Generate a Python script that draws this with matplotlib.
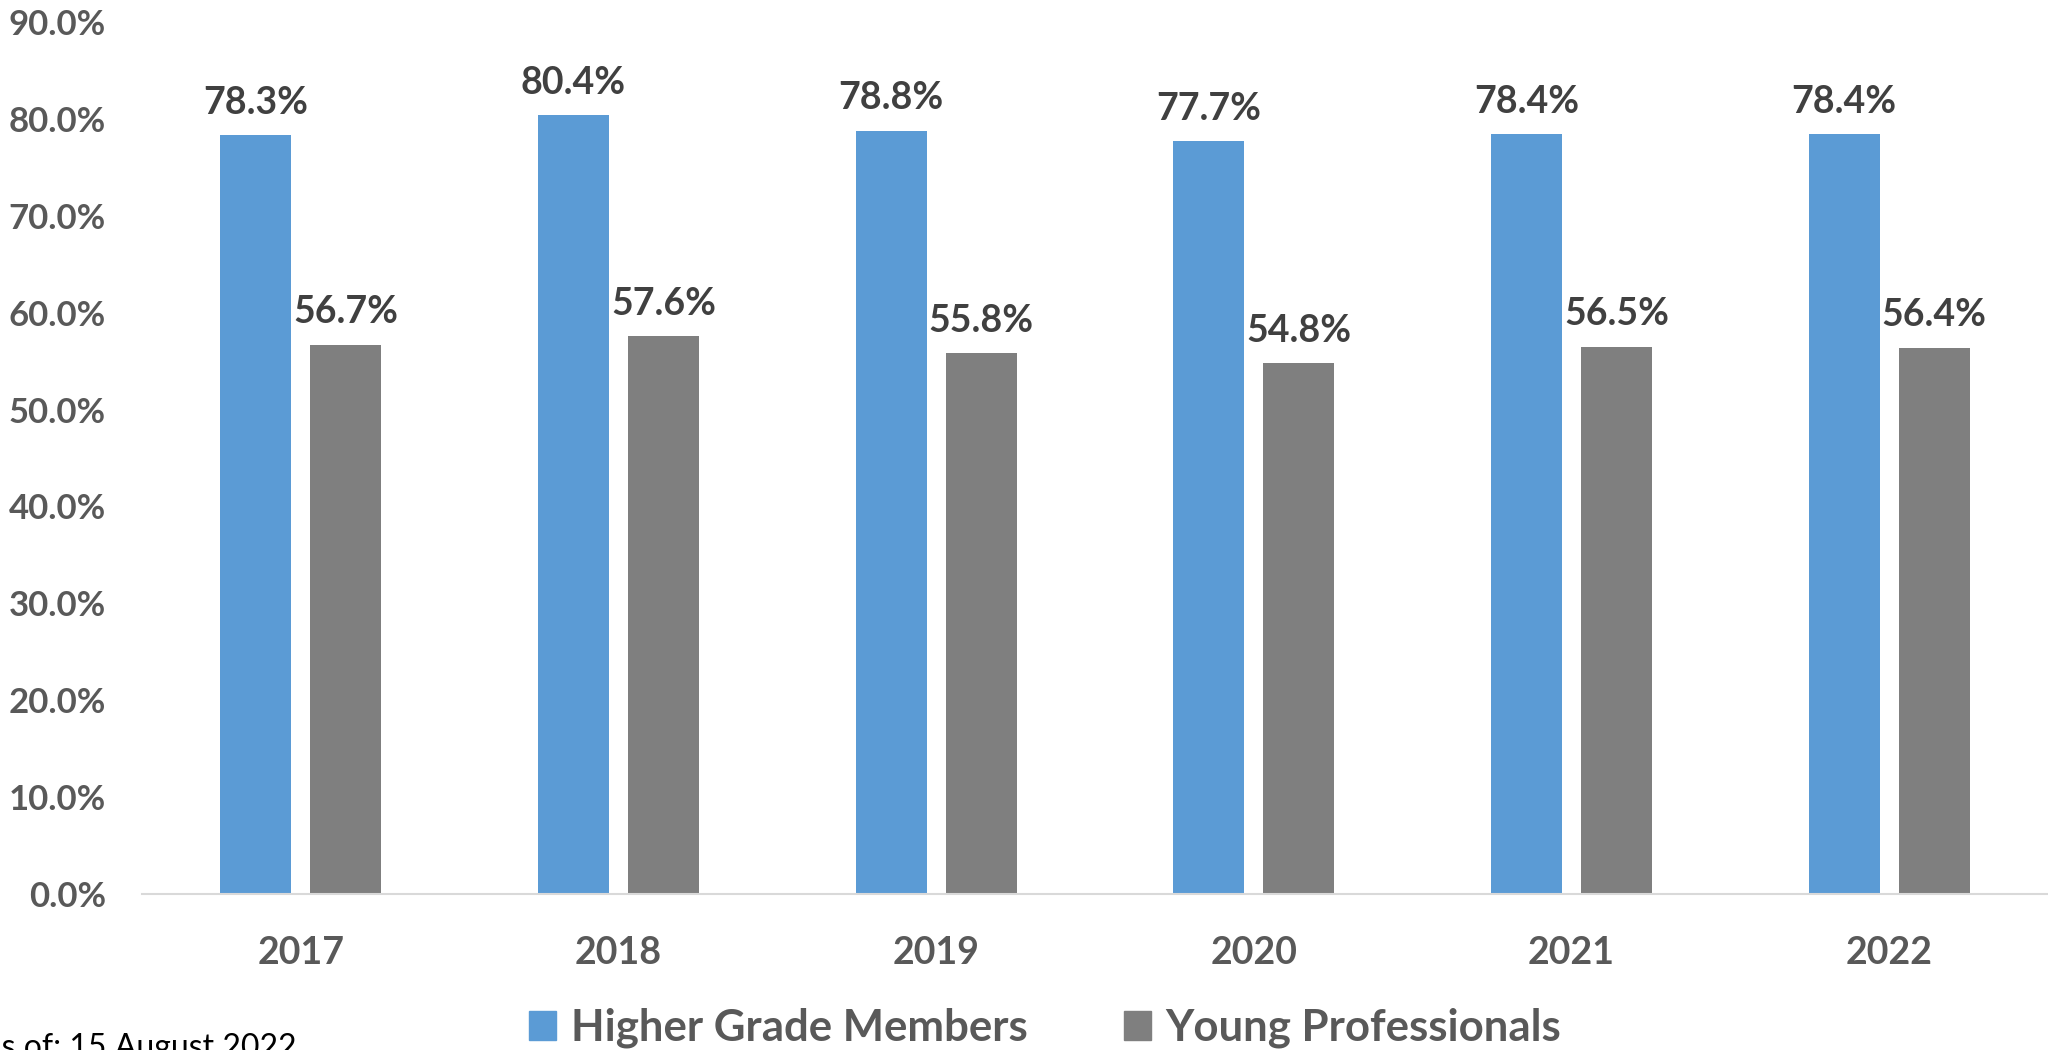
import numpy as np
import matplotlib.pyplot as plt
from matplotlib.patches import Patch
from matplotlib.ticker import PercentFormatter

# values
years = ["2017", "2018", "2019", "2020", "2021", "2022"]
higher_grade = [78.3, 80.4, 78.8, 77.7, 78.4, 78.4]
young_prof = [56.7, 57.6, 55.8, 54.8, 56.5, 56.4]
series_names = ["Higher Grade Members", "Young Professionals"]
footnote = "As of: 15 August 2022"

blue = "#5B9BD5"
grey = "#7F7F7F"
tick_col = "#595959"
label_col = "#404040"

plt.rcParams["font.family"] = ["Lato", "DejaVu Sans"]

fig = plt.figure(figsize=(20.48, 10.5), dpi=100)
ax = fig.add_axes([142 / 2048, 1 - 894 / 1050, 1 - 142 / 2048, (894 - 22) / 1050])

x = np.arange(len(years))
w = 0.2235
b1 = ax.bar(x - 0.142, higher_grade, w, color=blue)
b2 = ax.bar(x + 0.142, young_prof, w, color=grey)

for bars in (b1, b2):
    ax.bar_label(bars, fmt="%.1f%%", padding=11, fontsize=27, fontweight="bold",
                 color=label_col)

ax.set_xlim(-0.5, len(years) - 0.5)
ax.set_ylim(0, 90)
ax.set_yticks(np.arange(0, 91, 10))
ax.yaxis.set_major_formatter(PercentFormatter(decimals=1))
ax.set_xticks(x)
ax.set_xticklabels(years)

for s in ["top", "right", "left"]:
    ax.spines[s].set_visible(False)
ax.spines["bottom"].set_color("#D9D9D9")
ax.spines["bottom"].set_linewidth(1.5)

ax.tick_params(axis="both", length=0, labelcolor=tick_col)
ax.tick_params(axis="y", pad=26)
ax.tick_params(axis="x", pad=30)
for lab in ax.get_yticklabels():
    lab.set_fontsize(25)
    lab.set_fontweight("bold")
for lab in ax.get_xticklabels():
    lab.set_fontsize(27)
    lab.set_fontweight("bold")

handles = [Patch(color=blue), Patch(color=grey)]
leg = fig.legend(handles, series_names, loc="center", ncol=2,
                 bbox_to_anchor=(1045 / 2048, 1 - 1028 / 1050), frameon=False,
                 prop={"size": 31.5, "weight": "bold"}, handlelength=0.62,
                 handleheight=0.62, handletextpad=0.33, columnspacing=2.2,
                 borderpad=0, borderaxespad=0)
for t in leg.get_texts():
    t.set_color(tick_col)

fig.text(297 / 2048, 1 - 1057 / 1050, footnote, ha="right", va="baseline",
         fontsize=23, color="#000000")

fig.savefig("out.png", dpi=100)
